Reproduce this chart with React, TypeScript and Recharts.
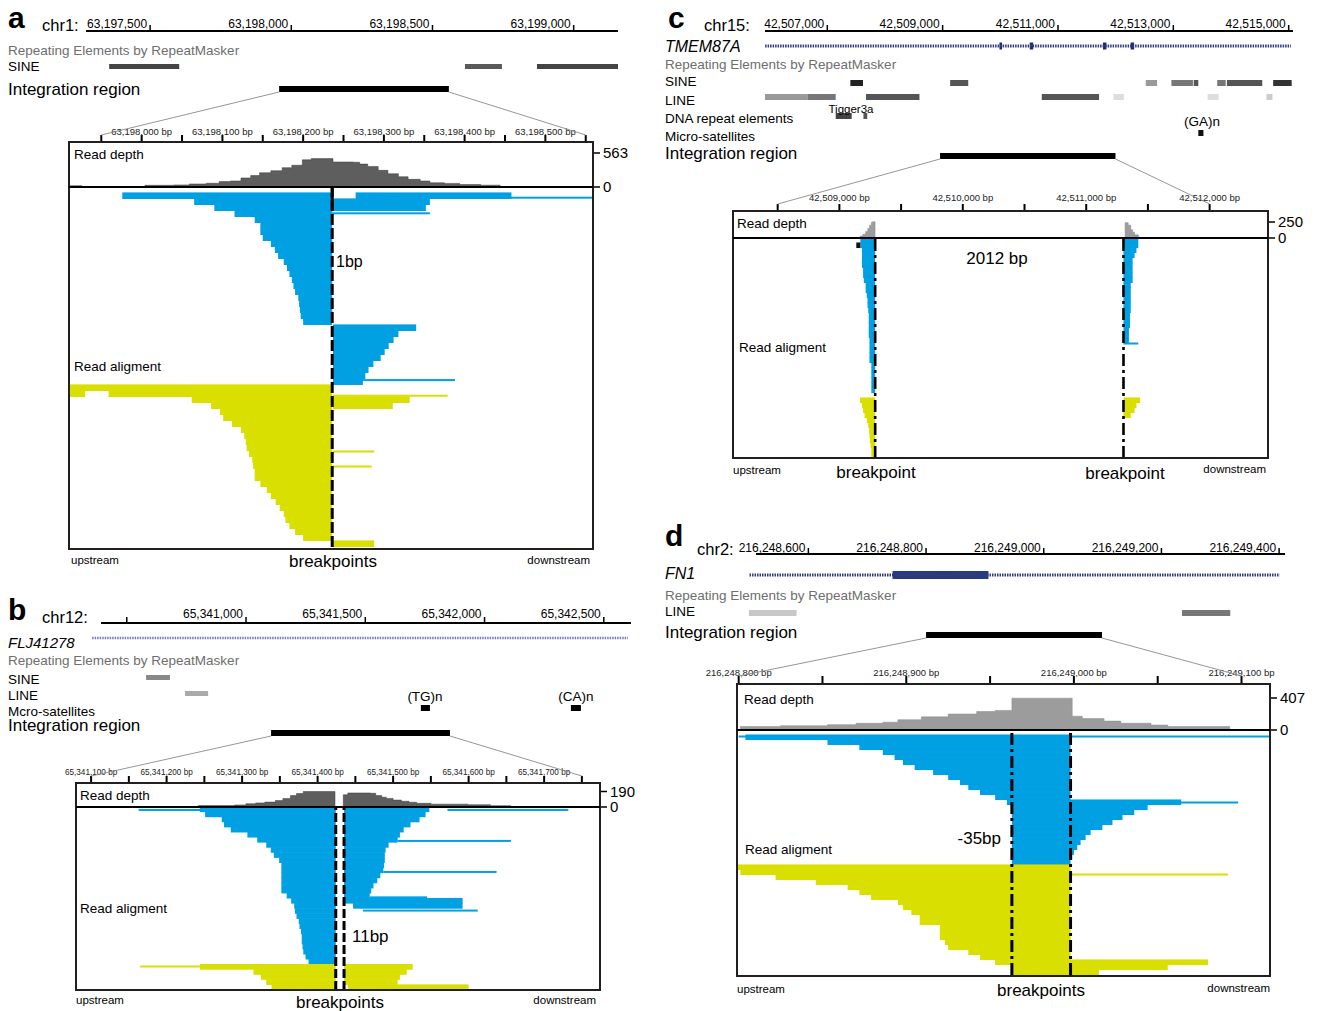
import React from 'react';
import {
  ComposedChart, AreaChart, BarChart, Area, Bar, Line, Cell,
  XAxis, YAxis, ReferenceArea, ReferenceLine,
} from 'recharts';

const FONT = '"Liberation Sans", Arial, Helvetica, sans-serif';
const BLUE = '#00a0e3';
const YELLOW = '#d9df00';
const GRAY_TEXT = '#6e6e6e';

type Range = [number, number];
type Seg = [number, number, number]; // row, start, end
type Pt = [number, number]; // position, depth

// ---------------- panel a (chr1) ----------------
const A_RULER_DOMAIN: Range = [63197273, 63199157];
const A_RULER_TICKS = [63197500, 63198000, 63198500, 63199000];
const A_RULER_LABELS = ['63,197,500', '63,198,000', '63,198,500', '63,199,000'];
const A_SINE: Range[] = [[63197355, 63197603], [63198615, 63198746], [63198870, 63199157]];
const A_SINE_SHADE = ['#444', '#5a5a5a', '#444'];
const A_INTEGRATION: Range = [63197957, 63198558];
// zoomed view, bp offset from 63,198,000
const A_ZOOM_DOMAIN: Range = [-90, 559];
const A_ZOOM_TICKS = [-50, 0, 50, 100, 150, 200, 250, 300, 350, 400, 450, 500, 550];
const A_ZOOM_LABELS = ['', '63,198,000 bp', '', '63,198,100 bp', '', '63,198,200 bp', '', '63,198,300 bp', '', '63,198,400 bp', '', '63,198,500 bp', ''];
const A_DEPTH: Pt[] = [[-90, 22], [-74, 0], [4, 28], [40, 34], [59, 50], [80, 62], [96, 90], [110, 100], [123, 150], [135, 190], [146, 235], [160, 270], [174, 320], [186, 360], [199, 450], [210, 470], [237, 414], [262, 410], [270, 380], [280, 340], [293, 276], [305, 220], [318, 170], [330, 127], [345, 100], [357, 70], [375, 60], [394, 40], [420, 30], [444, 0], [559, 0]];
const A_BREAKS = [236];
const A_BLUE: Seg[] = [
  [1, -24, 236], [2, 65, 236], [3, 90, 236], [4, 115, 236], [5, 140, 236], [6, 147, 236], [7, 147, 236], [8, 150, 236],
  [9, 160, 236], [10, 165, 236], [11, 169, 236], [12, 176, 236], [13, 180, 236], [14, 183, 236], [15, 186, 236],
  [16, 188, 236], [17, 190, 236], [18, 194, 236], [19, 195, 236], [20, 196, 236], [21, 197, 236], [22, 200, 236],
  [1, 265, 458], [2, 237, 357], [3, 237, 352],
  [23, 237, 340], [24, 237, 318], [25, 237, 312], [26, 237, 306], [27, 237, 301], [28, 237, 296], [29, 237, 287],
  [30, 237, 281], [31, 237, 277], [32, 237, 274],
];
const A_YELLOW: Seg[] = [
  [33, -90, 236], [34, -90, -70], [34, -41, 236], [35, 62, 236], [36, 86, 236], [37, 97, 236], [38, 101, 236],
  [39, 112, 236], [40, 123, 236], [41, 127, 236], [42, 129, 236], [43, 130, 236], [44, 133, 236], [45, 137, 236],
  [46, 138, 236], [47, 140, 236], [48, 140, 236], [49, 147, 236], [50, 155, 236], [51, 160, 236], [52, 166, 236],
  [53, 171, 236], [54, 176, 236], [55, 178, 236], [56, 183, 236], [57, 190, 236], [58, 200, 236],
  [35, 237, 332], [36, 237, 311], [59, 237, 288],
];
const A_THIN_BLUE: Seg[] = [[1.2, 306, 559], [3.8, 211, 357], [31.6, 237, 388]];
const A_THIN_YELLOW: Seg[] = [[34.2, 237, 379], [43.5, 237, 288], [46, 237, 285]];

// ---------------- panel b (chr12) ----------------
const B_RULER_DOMAIN: Range = [65340392, 65342614];
const B_RULER_TICKS = [65340500, 65341000, 65341500, 65342000, 65342500];
const B_RULER_LABELS = ['', '65,341,000', '65,341,500', '65,342,000', '65,342,500'];
const B_GENE: Range = [65340355, 65342601];
const B_SINE: Range[] = [[65340581, 65340681]];
const B_LINE: Range[] = [[65340744, 65340841]];
const B_MICRO: Range[] = [[65341733, 65341771], [65342362, 65342404]];
const B_INTEGRATION: Range = [65341105, 65341855];
// bp offset from 65,341,000
const B_ZOOM_DOMAIN: Range = [80, 774];
const B_ZOOM_TICKS = [100, 150, 200, 250, 300, 350, 400, 450, 500, 550, 600, 650, 700, 750];
const B_ZOOM_LABELS = ['65,341,100 bp', '', '65,341,200 bp', '', '65,341,300 bp', '', '65,341,400 bp', '', '65,341,500 bp', '', '65,341,600 bp', '', '65,341,700 bp', ''];
const B_DEPTH: Pt[] = [[80, 0], [242, 18], [290, 25], [305, 40], [318, 50], [330, 60], [344, 80], [354, 105], [364, 140], [372, 165], [381, 190], [423, 0], [434, 150], [440, 172], [470, 168], [477, 140], [485, 120], [491, 105], [500, 85], [511, 70], [521, 58], [531, 45], [550, 35], [599, 28], [629, 16], [656, 0], [774, 0]];
const B_BREAKS = [424, 435];
const B_BLUE: Seg[] = [
  [0, 244, 424], [1, 251, 424], [2, 273, 424], [3, 276, 424], [4, 285, 424], [5, 307, 424], [6, 320, 424], [7, 332, 424],
  [8, 338, 424], [9, 342, 424], [10, 349, 424], [11, 352, 424], [12, 352, 424], [13, 352, 424], [14, 352, 424],
  [15, 352, 424], [16, 352, 424], [17, 359, 424], [18, 365, 424], [19, 369, 424], [20, 370, 424], [21, 372, 424],
  [22, 375, 424], [23, 376, 424], [24, 378, 424], [25, 379, 424], [26, 379, 424], [27, 380, 424], [28, 381, 424],
  [29, 384, 424], [30, 388, 424],
  [0, 435, 548], [1, 435, 543], [2, 435, 535], [3, 435, 523], [4, 435, 514], [5, 435, 509], [6, 435, 506], [7, 435, 494],
  [8, 435, 490], [9, 435, 489], [10, 435, 489], [11, 435, 488], [12, 435, 487], [13, 435, 483], [14, 435, 479],
  [15, 435, 474], [16, 435, 471], [17, 435, 469], [18, 435, 592], [19, 447, 592],
];
const B_YELLOW: Seg[] = [
  [31, 244, 424], [32, 315, 424], [33, 325, 424], [34, 332, 424], [35, 339, 424],
  [31, 435, 526], [32, 435, 518], [33, 435, 509], [34, 435, 506], [35, 440, 600],
];
const B_THIN_BLUE: Seg[] = [[0, 163, 312], [0, 572, 732], [6.1, 506, 656], [12.2, 487, 637], [17.2, 469, 545], [19.8, 460, 612]];
const B_THIN_YELLOW: Seg[] = [[30.8, 165, 244]];

// ---------------- panel c (chr15) ----------------
const C_RULER_DOMAIN: Range = [42505920, 42515075];
const C_RULER_TICKS = [42507000, 42509000, 42511000, 42513000, 42515000];
const C_RULER_LABELS = ['42,507,000', '42,509,000', '42,511,000', '42,513,000', '42,515,000'];
const C_GENE: Range = [42505922, 42515038];
const C_EXONS: Range[] = [[42509985, 42510030], [42510510, 42510570], [42511780, 42511840], [42512260, 42512320]];
const C_SINE: Range[] = [[42507400, 42507619], [42509130, 42509444], [42512522, 42512719], [42512967, 42513340], [42513354, 42513433], [42513761, 42513908], [42513929, 42514542], [42514731, 42515052]];
const C_SINE_SHADE = ['#222', '#555', '#999', '#777', '#555', '#777', '#555', '#333'];
const C_LINE: Range[] = [[42505920, 42506664], [42506664, 42507146], [42507671, 42508598], [42510719, 42511712], [42511960, 42512142], [42513594, 42513785], [42514615, 42514718]];
const C_LINE_SHADE = ['#999', '#777', '#555', '#555', '#ddd', '#ddd', '#ccc'];
const C_DNA: Range[] = [[42507146, 42507423], [42507627, 42507693]];
const C_MICRO: Range[] = [[42513433, 42513522]];
const C_INTEGRATION: Range = [42508955, 42511997];
// bp offset from 42,509,000
const C_ZOOM_DOMAIN: Range = [-862, 3473];
const C_ZOOM_TICKS = [-500, 0, 500, 1000, 1500, 2000, 2500, 3000];
const C_ZOOM_LABELS = ['', '42,509,000 bp', '', '42,510,000 bp', '', '42,511,000 bp', '', '42,512,000 bp'];
const C_DEPTH: Pt[] = [[-862, 0], [-213, 8], [-76, 0], [168, 30], [190, 60], [213, 100], [230, 150], [244, 200], [259, 245], [270, 255], [289, 0], [2315, 240], [2340, 200], [2361, 130], [2376, 90], [2392, 50], [2422, 15], [2437, 0], [3473, 0]];
const C_BREAKS = [290, 2302];
const C_BLUE: Seg[] = [
  [0, 170, 290], [1, 170, 290], [2, 183, 290], [3, 183, 290], [4, 183, 290], [5, 183, 290], [6, 192, 290], [7, 192, 290],
  [8, 198, 290], [9, 213, 290], [10, 213, 290], [11, 222, 290], [12, 228, 290], [13, 228, 290], [14, 234, 290],
  [15, 238, 290], [16, 238, 290], [17, 238, 290], [18, 238, 290], [19, 238, 290], [20, 244, 290], [21, 244, 290],
  [22, 244, 290], [23, 244, 290], [24, 244, 290], [25, 259, 290], [26, 259, 290], [27, 259, 290], [28, 259, 290],
  [29, 259, 290], [30, 259, 290],
  [0, 2302, 2422], [1, 2302, 2422], [2, 2302, 2407], [3, 2302, 2392], [4, 2302, 2376], [5, 2302, 2376], [6, 2302, 2376],
  [7, 2302, 2376], [8, 2302, 2376], [9, 2302, 2361], [10, 2302, 2361], [11, 2302, 2361], [12, 2302, 2361],
  [13, 2302, 2361], [14, 2302, 2361], [15, 2302, 2355], [16, 2302, 2355], [17, 2302, 2355], [18, 2302, 2346],
  [19, 2302, 2346], [20, 2302, 2346],
];
const C_BLACK: Seg[] = [[1, 137, 170]];
const C_YELLOW: Seg[] = [
  [32, 167, 290], [33, 183, 290], [34, 192, 290], [35, 204, 290], [36, 222, 290], [37, 234, 290], [38, 241, 290],
  [39, 244, 290], [40, 247, 290], [41, 253, 290], [42, 259, 290], [43, 259, 290],
  [32, 2302, 2437], [33, 2302, 2407], [34, 2302, 2392], [35, 2302, 2361],
];
const C_THIN_BLUE: Seg[] = [[20.6, 2302, 2422]];

// ---------------- panel d (chr2) ----------------
const D_RULER_DOMAIN: Range = [216248511, 216249410];
const D_RULER_TICKS = [216248600, 216248800, 216249000, 216249200, 216249400];
const D_RULER_LABELS = ['216,248,600', '216,248,800', '216,249,000', '216,249,200', '216,249,400'];
const D_GENE: Range = [216248500, 216249401];
const D_EXONS: Range[] = [[216248743, 216248906]];
const D_LINE: Range[] = [[216248499, 216248580], [216249235, 216249317]];
const D_LINE_SHADE = ['#c8c8c8', '#777'];
const D_INTEGRATION: Range = [216248800, 216249099];
// bp offset from 216,248,800
const D_ZOOM_DOMAIN: Range = [-1, 317];
const D_ZOOM_TICKS = [0, 50, 100, 150, 200, 250, 300];
const D_ZOOM_LABELS = ['216,248,800 bp', '', '216,248,900 bp', '', '216,249,000 bp', '', '216,249,100 bp'];
const D_DEPTH: Pt[] = [[-1, 0], [1, 45], [25, 54], [53, 68], [70, 86], [86, 99], [95, 131], [109, 167], [125, 203], [142, 235], [153, 249], [163, 405], [199, 176], [205, 145], [218, 113], [228, 86], [246, 63], [256, 45], [293, 0], [317, 0]];
const D_BREAKS = [163, 198];
const D_BLUE: Seg[] = [
  [1, 4, 198], [2, 53, 198], [3, 72, 198], [4, 86, 198], [5, 93, 198], [6, 98, 198], [7, 105, 198], [8, 116, 198],
  [9, 125, 198], [10, 132, 198], [11, 137, 198], [12, 144, 198], [13, 153, 198], [14, 160, 264], [15, 163, 244],
  [16, 163, 236], [17, 163, 229], [18, 163, 223], [19, 163, 217], [20, 163, 210], [21, 163, 207], [22, 163, 204],
  [23, 163, 202], [24, 163, 200], [25, 163, 199], [26, 163, 198],
];
const D_YELLOW: Seg[] = [
  [27, -1, 198], [28, 1, 198], [29, 22, 198], [30, 46, 198], [31, 65, 198], [32, 72, 198], [33, 79, 198], [34, 95, 198],
  [35, 98, 198], [36, 103, 198], [37, 108, 198], [38, 108, 198], [39, 120, 198], [40, 120, 198], [41, 120, 198],
  [42, 123, 198], [43, 125, 198], [44, 137, 198], [45, 144, 198], [46, 153, 280], [47, 163, 256], [48, 163, 215],
];
const D_THIN_BLUE: Seg[] = [[0.8, 0, 317], [14, 198, 298]];
const D_THIN_YELLOW: Seg[] = [[28.4, 198, 292]];

// ---------------- components ----------------
type Track = { s: number; e: number; y: number; h: number; fill: string };
type Gene = { range: Range; y: number; color: string; width: number };
const M0 = { top: 0, right: 0, bottom: 0, left: 0 };

const rowShape = (h: number) => (p: any) => {
  const cy = p.y + p.height / 2;
  return <rect x={p.x} y={cy - h / 2} width={Math.max(p.width, 0)} height={h} fill={p.fill} />;
};

function Header({ L, domain, ticks, labels, tracks, gene }: { L: any; domain: Range; ticks: number[]; labels: string[]; tracks: Track[]; gene?: Gene }) {
  const AX = 24, EXT = 90;
  const { x0, x1, y, gap, plotH } = L.ruler;
  const data = [{ x: domain[0], v: 0 }, { x: domain[1], v: 0 }];
  return (
    <div style={{ position: 'absolute', left: x0 - EXT, top: y - AX }}>
      <ComposedChart width={x1 - x0 + EXT} height={AX + plotH} data={data} margin={{ top: 0, right: 0, bottom: 0, left: EXT }}>
        <XAxis
          type="number" dataKey="x" orientation="top" domain={domain} allowDataOverflow ticks={ticks} interval={0}
          height={AX} tickSize={6} tickMargin={0}
          axisLine={{ stroke: '#000', strokeWidth: 2 }} tickLine={{ stroke: '#000', strokeWidth: 1.5 }}
          tick={(p: any) => (
            <text x={p.x - 3} y={AX - gap} textAnchor="end" dominantBaseline="central" fontSize={12} fontFamily={FONT} fill="#000">
              {labels[ticks.indexOf(p.payload.value)]}
            </text>
          )}
        />
        <YAxis type="number" hide domain={[0, plotH]} reversed allowDataOverflow />
        <Line dataKey="v" stroke="none" dot={false} activeDot={false} isAnimationActive={false} />
        {gene && (
          <ReferenceLine
            segment={[{ x: gene.range[0], y: gene.y }, { x: gene.range[1], y: gene.y }]}
            stroke={gene.color} strokeWidth={gene.width} strokeDasharray="1.5 1" ifOverflow="visible"
          />
        )}
        {tracks.map((t, i) => (
          <ReferenceArea key={i} x1={t.s} x2={t.e} y1={t.y} y2={t.y + t.h} fill={t.fill} fillOpacity={1} stroke="none" ifOverflow="visible" />
        ))}
      </ComposedChart>
    </div>
  );
}

function Depth({ L, domain, ticks, labels, data, yMax, yTick, fill, stroke }: any) {
  const AX = 24, RW = 50, EXT = 45;
  const { box, sep } = L;
  const h = sep - box.y;
  const rows = (data as Pt[]).map(([x, d]) => ({ x, d }));
  return (
    <div style={{ position: 'absolute', left: box.x - EXT, top: box.y - AX }}>
      <AreaChart width={box.w + RW + EXT} height={AX + h + 12} data={rows} margin={{ top: 0, right: 0, bottom: 12, left: EXT }}>
        <XAxis
          type="number" dataKey="x" orientation="top" domain={domain} allowDataOverflow ticks={ticks} interval={0}
          height={AX} tickSize={L.zoomTickLen} tickMargin={0} axisLine={false}
          tickLine={{ stroke: '#000', strokeWidth: 2 }}
          tick={(p: any) => (
            <text x={p.x} y={AX - L.zoomLabelGap} textAnchor="middle" dominantBaseline="central" fontSize={L.zoomLabelSize} fontFamily={FONT} fill="#222">
              {labels[ticks.indexOf(p.payload.value)]}
            </text>
          )}
        />
        <YAxis
          yAxisId="d" orientation="right" type="number" domain={[0, yMax]} allowDataOverflow ticks={[0, yTick]} interval={0}
          width={RW} tickSize={7} tickMargin={3} axisLine={false} tickLine={{ stroke: '#000', strokeWidth: 1.5 }}
          tick={{ fontSize: 15, fill: '#000', fontFamily: FONT }}
        />
        <Area yAxisId="d" type="stepAfter" dataKey="d" stroke={stroke} strokeWidth={0.5} fill={fill} fillOpacity={1} isAnimationActive={false} dot={false} activeDot={false} />
      </AreaChart>
    </div>
  );
}

function ReadLayer({ L, domain, data, thick, children }: any) {
  const h = L.rows * L.pitch;
  return (
    <div style={{ position: 'absolute', left: L.box.x, top: L.sep }}>
      <BarChart layout="vertical" width={L.box.w} height={h} data={data} margin={M0} barCategoryGap={0} barGap={0}>
        <XAxis type="number" domain={domain} allowDataOverflow hide />
        <YAxis type="number" dataKey="row" domain={[-0.5, L.rows - 0.5]} allowDataOverflow hide />
        <Bar dataKey="r" barSize={thick} isAnimationActive={false} shape={rowShape(thick)}>
          {data.map((d: any, i: number) => <Cell key={i} fill={d.fill} />)}
        </Bar>
        {children}
      </BarChart>
    </div>
  );
}

const toRows = (segs: Seg[], fill: string) => segs.map(([row, s, e]) => ({ row, r: [s, e], fill }));

function Reads({ L, domain, main, thin, breaks, dash, width, solidTop }: any) {
  return (
    <>
      <ReadLayer L={L} domain={domain} data={main} thick={L.pitch + 0.6} />
      <ReadLayer L={L} domain={domain} data={thin} thick={2}>
        {breaks.map((b: number) => (
          <ReferenceLine key={b} x={b} stroke="#000" strokeWidth={width} strokeDasharray={dash} />
        ))}
        {solidTop != null && (
          <ReferenceLine segment={[{ x: breaks[0], y: -0.5 }, { x: breaks[0], y: solidTop }]} stroke="#000" strokeWidth={width} />
        )}
      </ReadLayer>
    </>
  );
}

function T({ x, y, size = 13.5, anchor = 'start', bold, italic, color = '#000', base, children }: any) {
  return (
    <text x={x} y={y} fontSize={size} textAnchor={anchor} fontWeight={bold ? 700 : 400} fontStyle={italic ? 'italic' : 'normal'}
      fill={color} dominantBaseline={base ? 'alphabetic' : 'central'} fontFamily={FONT}>
      {children}
    </text>
  );
}

function Frame({ L, rulerDomain, integration, zoomDomain, zoomTicks, children }: any) {
  const { ruler, box, sep } = L;
  const hx = (v: number) => ruler.x0 + ((v - rulerDomain[0]) / (rulerDomain[1] - rulerDomain[0])) * (ruler.x1 - ruler.x0);
  const zx = (v: number) => box.x + ((v - zoomDomain[0]) / (zoomDomain[1] - zoomDomain[0])) * box.w;
  const iy = ruler.y + L.intY + L.intH;
  const ty = box.y - L.zoomTickLen;
  return (
    <svg width={1317} height={1011} style={{ position: 'absolute', left: 0, top: 0, pointerEvents: 'none' }}>
      <line x1={hx(integration[0])} y1={iy} x2={zx(zoomTicks[0])} y2={ty} stroke="#8a8a8a" strokeWidth={0.9} />
      <line x1={hx(integration[1])} y1={iy} x2={zx(zoomTicks[zoomTicks.length - 1])} y2={ty} stroke="#8a8a8a" strokeWidth={0.9} />
      <rect x={box.x} y={box.y} width={box.w} height={box.h} fill="none" stroke="#231f20" strokeWidth={2} />
      <line x1={box.x} y1={sep} x2={box.x + box.w} y2={sep} stroke="#000" strokeWidth={2} />
      {children}
    </svg>
  );
}

const LAYOUT_A = {
  ruler: { x0: 86, x1: 618, y: 31, gap: 7, plotH: 70 },
  box: { x: 69, y: 142, w: 524, h: 407 }, sep: 187,
  intY: 55, intH: 6, zoomLabelGap: 11, zoomLabelSize: 9.5, zoomTickLen: 7, rows: 60, pitch: 6,
};
const LAYOUT_B = {
  ruler: { x0: 101, x1: 631, y: 623, gap: 9, plotH: 120 },
  box: { x: 76, y: 783, w: 524, h: 207 }, sep: 807,
  intY: 107, intH: 6, zoomLabelGap: 11, zoomLabelSize: 8.2, zoomTickLen: 7, rows: 36, pitch: 183 / 36,
};
const LAYOUT_C = {
  ruler: { x0: 765, x1: 1293, y: 31, gap: 7, plotH: 135 },
  box: { x: 733, y: 211, w: 535, h: 247 }, sep: 238,
  intY: 122, intH: 6, zoomLabelGap: 14, zoomLabelSize: 9.5, zoomTickLen: 7, rows: 44, pitch: 5,
};
const LAYOUT_D = {
  ruler: { x0: 756, x1: 1285, y: 554, gap: 6, plotH: 90 },
  box: { x: 737, y: 684, w: 533, h: 292 }, sep: 730,
  intY: 78, intH: 6, zoomLabelGap: 12, zoomLabelSize: 9.5, zoomTickLen: 8, rows: 49, pitch: 5,
};

const ranges = (list: Range[], y: number, h: number, fill: string | string[]): Track[] =>
  list.map(([s, e], i) => ({ s, e, y, h, fill: Array.isArray(fill) ? fill[i] : fill }));

function PanelA() {
  const L = LAYOUT_A;
  const tracks = [...ranges(A_SINE, 33, 5, A_SINE_SHADE), ...ranges([A_INTEGRATION], 55, 6, '#000')];
  return (
    <>
      <Header L={L} domain={A_RULER_DOMAIN} ticks={A_RULER_TICKS} labels={A_RULER_LABELS} tracks={tracks} />
      <Depth L={L} domain={A_ZOOM_DOMAIN} ticks={A_ZOOM_TICKS} labels={A_ZOOM_LABELS} data={A_DEPTH} yMax={745} yTick={563} fill="#5e5e5e" stroke="#3c3c3c" />
      <Reads L={L} domain={A_ZOOM_DOMAIN} breaks={A_BREAKS} dash="11 3" width={3} solidTop={3.3}
        main={[...toRows(A_BLUE, BLUE), ...toRows(A_YELLOW, YELLOW)]}
        thin={[...toRows(A_THIN_BLUE, BLUE), ...toRows(A_THIN_YELLOW, YELLOW)]} />
      <Frame L={L} rulerDomain={A_RULER_DOMAIN} integration={A_INTEGRATION} zoomDomain={A_ZOOM_DOMAIN} zoomTicks={A_ZOOM_TICKS}>
        <T x={8} y={28} size={30} bold base>a</T>
        <T x={42} y={25} size={16.5}>chr1:</T>
        <T x={8} y={50} color={GRAY_TEXT}>Repeating Elements by RepeatMasker</T>
        <T x={8} y={66}>SINE</T>
        <T x={8} y={89} size={17}>Integration region</T>
        <T x={74} y={154}>Read depth</T>
        <T x={336} y={261} size={16}>1bp</T>
        <T x={74} y={366}>Read aligment</T>
        <T x={71} y={560} size={11.5}>upstream</T>
        <T x={333} y={561} size={17} anchor="middle">breakpoints</T>
        <T x={590} y={560} size={11.5} anchor="end">downstream</T>
      </Frame>
    </>
  );
}

function PanelB() {
  const L = LAYOUT_B;
  const tracks = [
    ...ranges(B_SINE, 52, 5, '#888'), ...ranges(B_LINE, 68, 5, '#aaa'),
    ...ranges(B_MICRO, 82, 6, '#000'), ...ranges([B_INTEGRATION], 107, 6, '#000'),
  ];
  return (
    <>
      <Header L={L} domain={B_RULER_DOMAIN} ticks={B_RULER_TICKS} labels={B_RULER_LABELS} tracks={tracks}
        gene={{ range: B_GENE, y: 15, color: '#7a7ac6', width: 2.5 }} />
      <Depth L={L} domain={B_ZOOM_DOMAIN} ticks={B_ZOOM_TICKS} labels={B_ZOOM_LABELS} data={B_DEPTH} yMax={294} yTick={190} fill="#5e5e5e" stroke="#3c3c3c" />
      <Reads L={L} domain={B_ZOOM_DOMAIN} breaks={B_BREAKS} dash="9 3" width={3}
        main={[...toRows(B_BLUE, BLUE), ...toRows(B_YELLOW, YELLOW)]}
        thin={[...toRows(B_THIN_BLUE, BLUE), ...toRows(B_THIN_YELLOW, YELLOW)]} />
      <Frame L={L} rulerDomain={B_RULER_DOMAIN} integration={B_INTEGRATION} zoomDomain={B_ZOOM_DOMAIN} zoomTicks={B_ZOOM_TICKS}>
        <T x={8} y={620} size={30} bold base>b</T>
        <T x={42} y={617} size={16.5}>chr12:</T>
        <T x={8} y={642} size={15} italic>FLJ41278</T>
        <T x={8} y={660} color={GRAY_TEXT}>Repeating Elements by RepeatMasker</T>
        <T x={8} y={679}>SINE</T>
        <T x={8} y={695}>LINE</T>
        <T x={8} y={711}>Mcro-satellites</T>
        <T x={425} y={696} anchor="middle">(TG)n</T>
        <T x={576} y={696} anchor="middle">(CA)n</T>
        <T x={8} y={725} size={17}>Integration region</T>
        <T x={80} y={795}>Read depth</T>
        <T x={80} y={908}>Read aligment</T>
        <T x={352} y={936} size={17}>11bp</T>
        <T x={76} y={1000} size={11.5}>upstream</T>
        <T x={340} y={1002} size={17} anchor="middle">breakpoints</T>
        <T x={596} y={1000} size={11.5} anchor="end">downstream</T>
      </Frame>
    </>
  );
}

function PanelC() {
  const L = LAYOUT_C;
  const tracks = [
    ...ranges(C_EXONS, 11.5, 7, '#1d2b68'),
    ...ranges(C_SINE, 49, 6, C_SINE_SHADE), ...ranges(C_LINE, 63, 6, C_LINE_SHADE),
    ...ranges(C_DNA, 82, 6, ['#444', '#555']), ...ranges(C_MICRO, 99, 6, '#111'),
    ...ranges([C_INTEGRATION], 122, 6, '#000'),
  ];
  return (
    <>
      <Header L={L} domain={C_RULER_DOMAIN} ticks={C_RULER_TICKS} labels={C_RULER_LABELS} tracks={tracks}
        gene={{ range: C_GENE, y: 15, color: '#2e3d7e', width: 3 }} />
      <Depth L={L} domain={C_ZOOM_DOMAIN} ticks={C_ZOOM_TICKS} labels={C_ZOOM_LABELS} data={C_DEPTH} yMax={422} yTick={250} fill="#9c9c9c" stroke="#8a8a8a" />
      <Reads L={L} domain={C_ZOOM_DOMAIN} breaks={C_BREAKS} dash="12 4 3 4" width={2.6}
        main={[...toRows(C_BLUE, BLUE), ...toRows(C_BLACK, '#111'), ...toRows(C_YELLOW, YELLOW)]}
        thin={toRows(C_THIN_BLUE, BLUE)} />
      <Frame L={L} rulerDomain={C_RULER_DOMAIN} integration={C_INTEGRATION} zoomDomain={C_ZOOM_DOMAIN} zoomTicks={C_ZOOM_TICKS}>
        <T x={668} y={28} size={30} bold base>c</T>
        <T x={704} y={25} size={16.5}>chr15:</T>
        <T x={665} y={46} size={16} italic>TMEM87A</T>
        <T x={665} y={64} color={GRAY_TEXT}>Repeating Elements by RepeatMasker</T>
        <T x={665} y={81}>SINE</T>
        <T x={665} y={100}>LINE</T>
        <T x={851} y={109} size={11.5} anchor="middle">Tigger3a</T>
        <T x={665} y={118}>DNA repeat elements</T>
        <T x={1202} y={121} anchor="middle">(GA)n</T>
        <T x={665} y={136}>Micro-satellites</T>
        <T x={665} y={153} size={17}>Integration region</T>
        <T x={737} y={223}>Read depth</T>
        <T x={997} y={258} size={17} anchor="middle">2012 bp</T>
        <T x={739} y={347}>Read aligment</T>
        <T x={733} y={470} size={11.5}>upstream</T>
        <T x={876} y={472} size={17} anchor="middle">breakpoint</T>
        <T x={1125} y={473} size={17} anchor="middle">breakpoint</T>
        <T x={1266} y={469} size={11.5} anchor="end">downstream</T>
      </Frame>
    </>
  );
}

function PanelD() {
  const L = LAYOUT_D;
  const tracks = [
    ...ranges(D_EXONS, 17, 8, '#2b3a80'),
    ...ranges(D_LINE, 56, 6, D_LINE_SHADE), ...ranges([D_INTEGRATION], 78, 6, '#000'),
  ];
  return (
    <>
      <Header L={L} domain={D_RULER_DOMAIN} ticks={D_RULER_TICKS} labels={D_RULER_LABELS} tracks={tracks}
        gene={{ range: D_GENE, y: 21, color: '#2e3d7e', width: 3 }} />
      <Depth L={L} domain={D_ZOOM_DOMAIN} ticks={D_ZOOM_TICKS} labels={D_ZOOM_LABELS} data={D_DEPTH} yMax={585} yTick={407} fill="#9c9c9c" stroke="#8a8a8a" />
      <Reads L={L} domain={D_ZOOM_DOMAIN} breaks={D_BREAKS} dash="12 4 3 4" width={3}
        main={[...toRows(D_BLUE, BLUE), ...toRows(D_YELLOW, YELLOW)]}
        thin={[...toRows(D_THIN_BLUE, BLUE), ...toRows(D_THIN_YELLOW, YELLOW)]} />
      <Frame L={L} rulerDomain={D_RULER_DOMAIN} integration={D_INTEGRATION} zoomDomain={D_ZOOM_DOMAIN} zoomTicks={D_ZOOM_TICKS}>
        <T x={665} y={546} size={30} bold base>d</T>
        <T x={697} y={549} size={16.5}>chr2:</T>
        <T x={665} y={573} size={16} italic>FN1</T>
        <T x={665} y={595} color={GRAY_TEXT}>Repeating Elements by RepeatMasker</T>
        <T x={665} y={611}>LINE</T>
        <T x={665} y={632} size={17}>Integration region</T>
        <T x={744} y={699}>Read depth</T>
        <T x={1001} y={838} size={17} anchor="end">-35bp</T>
        <T x={745} y={849}>Read aligment</T>
        <T x={737} y={989} size={11.5}>upstream</T>
        <T x={1041} y={990} size={17} anchor="middle">breakpoints</T>
        <T x={1270} y={988} size={11.5} anchor="end">downstream</T>
      </Frame>
    </>
  );
}

export default function App() {
  return (
    <div style={{ position: 'absolute', left: 0, top: 0, width: 1317, height: 1011, background: '#fff', fontFamily: FONT, overflow: 'hidden' }}>
      <PanelA />
      <PanelB />
      <PanelC />
      <PanelD />
    </div>
  );
}
